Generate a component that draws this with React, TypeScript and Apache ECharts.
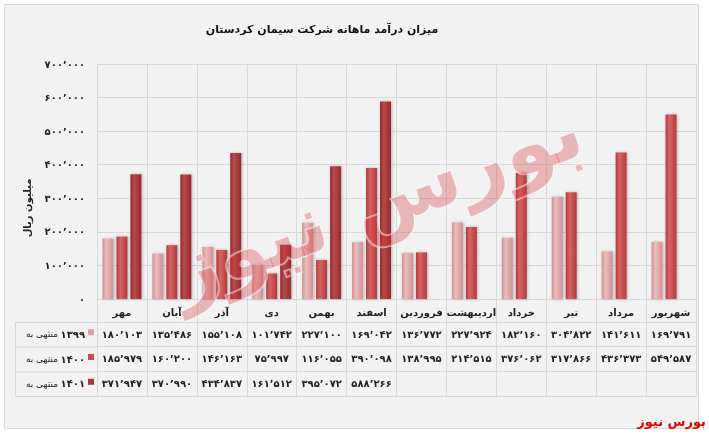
import React, { useEffect, useRef } from "react";
import * as echarts from "echarts";

const categories = ["مهر", "آبان", "آذر", "دی", "بهمن", "اسفند", "فروردین", "اردیبهشت", "خرداد", "تیر", "مرداد", "شهریور"];
const seriesPrefix = "منتهی به";
const seriesYears = ["۱۳۹۹", "۱۴۰۰", "۱۴۰۱"];
const seriesNames = seriesYears.map((y) => seriesPrefix + " " + y);
const values1399 = [180103, 135486, 155108, 101742, 227100, 169042, 136772, 227924, 182160, 304822, 141611, 169791];
const values1400 = [185979, 160200, 146163, 75997, 116055, 390098, 138995, 214515, 376062, 317866, 436373, 549587];
const values1401 = [371947, 370990, 434837, 161512, 395072, 588266, null, null, null, null, null, null];
const yTicks = { min: 0, max: 700000, interval: 100000 };
const titleText = "میزان درآمد ماهانه شرکت سیمان کردستان";
const yAxisName = "میلیون ریال";
const sourceText = "بورس نیوز";

const FONT = "DejaVu Sans";
const GRID_COLOR = "#d9d9d9";
const colors = [
  ["#ecbcbd", "#dca3a4", "#cf9293"],
  ["#d66466", "#c84b4d", "#b5393b"],
  ["#b84a4c", "#a63537", "#932a2c"],
];

const persianDigits = "۰۱۲۳۴۵۶۷۸۹";
function toPersian(n: number | null): string {
  if (n === null || n === undefined) return "";
  const s = String(n).replace(/\B(?=(\d{3})+(?!\d))/g, "٬");
  return s.replace(/\d/g, (d) => persianDigits[Number(d)]);
}

const allSeries = [values1399, values1400, values1401];

export default function App() {
  const ref = useRef<HTMLDivElement>(null);
  useEffect(() => {
    if (!ref.current) return;
    const chart = echarts.init(ref.current, null, { renderer: "svg" });

    const gridLeft = 97;
    const gridRight = 696;
    const axisY = 299;
    const rowOffsets = [23, 47.5, 72.5];
    const tableBottom = 97;

    const rowAxis = (idx: number) => ({
      type: "category",
      gridIndex: 0,
      position: "bottom",
      offset: rowOffsets[idx],
      data: categories,
      axisLine: { show: true, lineStyle: { color: GRID_COLOR, width: 1 } },
      axisTick: { show: false },
      splitLine: { show: false },
      axisLabel: {
        interval: 0,
        margin: 12,
        verticalAlign: "middle",
        fontFamily: FONT,
        fontWeight: "bold",
        fontSize: 10,
        color: "#222",
        formatter: (_v: string, i: number) => toPersian(allSeries[idx][i]),
      },
    });

    const legendGraphics: any[] = [];
    seriesYears.forEach((year, i) => {
      const top = axisY + rowOffsets[i];
      const bottom = axisY + (i < 2 ? rowOffsets[i + 1] : tableBottom);
      const cy = (top + bottom) / 2;
      legendGraphics.push({
        type: "text",
        x: 85,
        y: cy,
        style: {
          text: year,
          align: "right",
          verticalAlign: "middle",
          fontFamily: FONT,
          fontWeight: "bold",
          fontSize: 10,
          fill: "#222",
        },
      });
      legendGraphics.push({
        type: "text",
        x: 58,
        y: cy,
        style: {
          text: seriesPrefix,
          align: "right",
          verticalAlign: "middle",
          fontFamily: FONT,
          fontSize: 9,
          fill: "#222",
        },
      });
      legendGraphics.push({
        type: "rect",
        shape: { x: 88, y: cy - 5, width: 6, height: 6 },
        style: { fill: colors[i][1] },
      });
      legendGraphics.push({
        type: "line",
        shape: { x1: 15, y1: top + 0.5, x2: gridLeft, y2: top + 0.5 },
        style: { stroke: GRID_COLOR, lineWidth: 1 },
      });
    });

    chart.setOption({
      animation: false,
      backgroundColor: "transparent",
      title: {
        text: titleText,
        left: 317,
        top: 19,
        textAlign: "center",
        textStyle: { fontFamily: FONT, fontWeight: "bold", fontSize: 11, color: "#111" },
      },
      grid: { left: gridLeft, right: 709 - gridRight, top: 64, bottom: 434 - axisY, containLabel: false },
      xAxis: [
        {
          type: "category",
          gridIndex: 0,
          position: "bottom",
          data: categories,
          axisLine: { show: true, lineStyle: { color: GRID_COLOR, width: 1 } },
          axisTick: { show: true, interval: 0, length: tableBottom, lineStyle: { color: GRID_COLOR } },
          splitLine: { show: true, interval: 0, lineStyle: { color: GRID_COLOR } },
          axisLabel: {
            interval: 0,
            margin: 13,
            verticalAlign: "middle",
            fontFamily: FONT,
            fontWeight: "bold",
            fontSize: 10,
            color: "#222",
          },
        },
        rowAxis(0),
        rowAxis(1),
        rowAxis(2),
        {
          type: "category",
          gridIndex: 0,
          position: "bottom",
          offset: tableBottom,
          data: categories,
          axisLine: { show: true, lineStyle: { color: GRID_COLOR, width: 1 } },
          axisTick: { show: false },
          axisLabel: { show: false },
          splitLine: { show: false },
        },
      ],
      yAxis: {
        type: "value",
        min: yTicks.min,
        max: yTicks.max,
        interval: yTicks.interval,
        axisLine: { show: false },
        axisTick: { show: false },
        splitLine: { show: true, lineStyle: { color: GRID_COLOR } },
        axisLabel: {
          margin: 12,
          fontFamily: FONT,
          fontWeight: "bold",
          fontSize: 10,
          color: "#222",
          formatter: (v: number) => toPersian(v),
        },
      },
      series: allSeries.map((data, i) => ({
        name: seriesNames[i],
        type: "bar",
        xAxisIndex: 0,
        yAxisIndex: 0,
        data,
        barWidth: 11,
        barGap: "27%",
        itemStyle: {
          color: new echarts.graphic.LinearGradient(0, 0, 1, 0, [
            { offset: 0, color: colors[i][2] },
            { offset: 0.35, color: colors[i][0] },
            { offset: 1, color: colors[i][2] },
          ]),
          shadowColor: "rgba(0,0,0,0.25)",
          shadowBlur: 3,
          shadowOffsetX: 1,
          shadowOffsetY: 0,
        },
      })),
      graphic: [
        {
          type: "rect",
          z: -10,
          shape: { x: 4.5, y: 4.5, width: 694, height: 424 },
          style: { fill: "#f2f2f2", stroke: GRID_COLOR, lineWidth: 1 },
        },
        {
          type: "line",
          shape: { x1: 15.5, y1: axisY + rowOffsets[0], x2: 15.5, y2: axisY + tableBottom },
          style: { stroke: GRID_COLOR, lineWidth: 1 },
        },
        {
          type: "line",
          shape: { x1: 15, y1: axisY + tableBottom + 0.5, x2: gridLeft, y2: axisY + tableBottom + 0.5 },
          style: { stroke: GRID_COLOR, lineWidth: 1 },
        },
        ...legendGraphics,
        {
          type: "text",
          x: 27,
          y: 208,
          rotation: Math.PI / 2,
          style: {
            text: yAxisName,
            align: "center",
            verticalAlign: "middle",
            fontFamily: FONT,
            fontWeight: "bold",
            fontSize: 10,
            fill: "#222",
          },
        },
        {
          type: "text",
          x: 375,
          y: 200,
          rotation: 0.35,
          z: 100,
          style: {
            text: sourceText,
            align: "center",
            verticalAlign: "middle",
            fontFamily: FONT,
            fontWeight: "bold",
            fontSize: 82,
            fill: "rgba(215,55,60,0.32)",
            stroke: "rgba(255,255,255,0.55)",
            lineWidth: 2,
          },
        },
        {
          type: "text",
          x: 706,
          y: 421,
          z: 100,
          style: {
            text: sourceText,
            align: "right",
            verticalAlign: "middle",
            fontFamily: FONT,
            fontWeight: "bold",
            fontSize: 13,
            fill: "#e00000",
          },
        },
      ],
    });
    return () => chart.dispose();
  }, []);
  return <div ref={ref} style={{ position: "fixed", left: 0, top: 0, width: 709, height: 434 }} />;
}
